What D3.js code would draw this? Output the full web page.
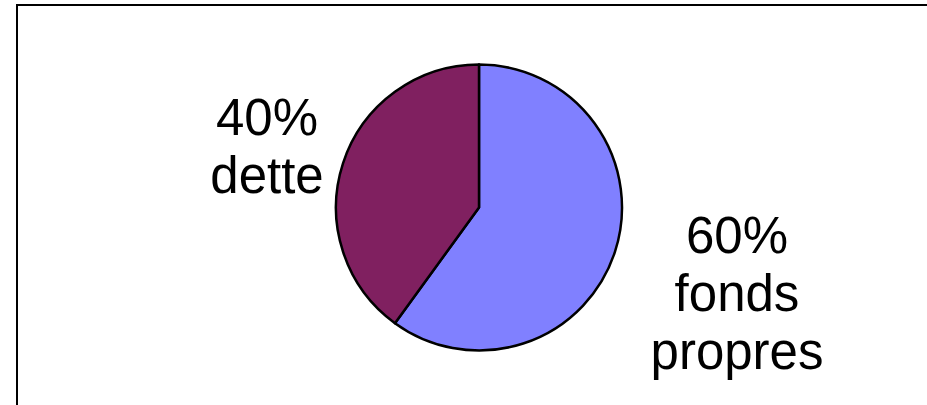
<!DOCTYPE html>
<html>
<head>
<meta charset="utf-8">
<script src="https://cdn.jsdelivr.net/npm/d3@7"></script>
<style>
html,body{margin:0;padding:0;background:#fff;}
svg{display:block;}
</style>
</head>
<body>
<script>
// Data
const categories = ["fonds propres", "dette"];
const values = [60, 40];
const colors = ["#8080FF", "#802060"];

const W = 927, H = 405;
const svg = d3.select("body").append("svg").attr("width", W).attr("height", H);

// frame (extends beyond right/bottom edges as in reference)
svg.append("rect")
  .attr("x", 17).attr("y", 5)
  .attr("width", W + 20).attr("height", H + 20)
  .attr("fill", "#fff").attr("stroke", "#000").attr("stroke-width", 2);

const cx = 479, cy = 207.5, r = 143;
const pie = d3.pie().sort(null).value(d => d.value).startAngle(0).endAngle(2 * Math.PI);
const arc = d3.arc().innerRadius(0).outerRadius(r);
const data = categories.map((c, i) => ({name: c, value: values[i], color: colors[i]}));

const g = svg.append("g").attr("transform", `translate(${cx},${cy})`);
g.selectAll("path").data(pie(data)).enter().append("path")
  .attr("d", arc)
  .attr("fill", d => d.data.color)
  .attr("stroke", "#000")
  .attr("stroke-width", 2.5)
  .attr("stroke-linejoin", "round");

// labels
const total = d3.sum(values);
const labelPos = {"fonds propres": [737, 253], "dette": [267, 135]};
data.forEach(d => {
  const [lx, ly] = labelPos[d.name];
  const lines = [Math.round(d.value / total * 100) + "%"].concat(d.name.split(" "));
  const t = svg.append("text")
    .attr("text-anchor", "middle")
    .attr("font-family", "Liberation Sans, Arial, sans-serif")
    .attr("font-size", 51)
    .attr("fill", "#000");
  lines.forEach((ln, i) => {
    t.append("tspan").attr("x", lx).attr("y", ly + i * 58).text(ln);
  });
});
</script>
</body>
</html>
